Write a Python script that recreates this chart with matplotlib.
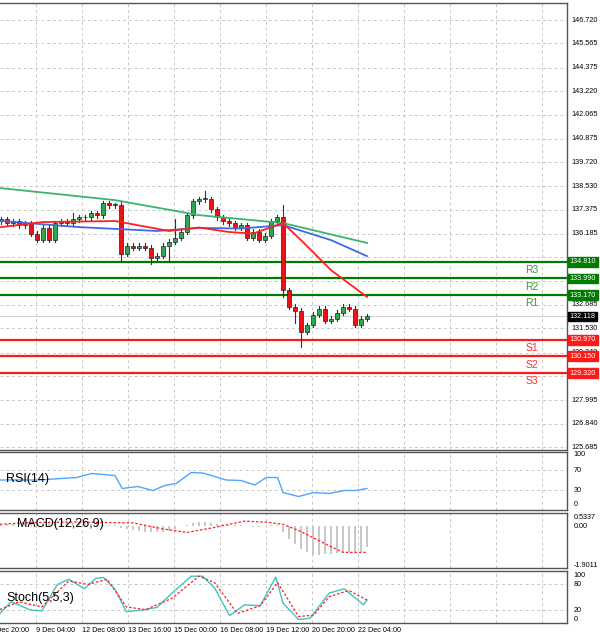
import matplotlib
matplotlib.use("Agg")
import matplotlib.pyplot as plt

plt.rcParams["font.family"] = "Liberation Sans"

# ---- data ----
closes = [136.9, 136.7, 136.8, 136.6, 136.7, 136.2, 135.9, 136.5, 135.9, 136.7,
          136.8, 136.7, 136.9, 137.0, 137.0, 137.2, 137.1, 137.7, 137.6, 137.6,
          135.2, 135.6, 135.5, 135.6, 135.5, 135.0, 135.1, 135.6, 135.8, 136.0,
          136.3, 137.1, 137.8, 137.9, 137.9, 137.4, 137.0, 136.8, 136.7, 136.5,
          136.6, 136.0, 136.3, 135.9, 136.1, 136.8, 137.0, 133.4, 132.6, 132.4,
          131.35, 131.7, 132.2, 132.5, 131.9, 132.0, 132.3, 132.6, 132.5, 131.7,
          132.0, 132.118]
first_open = 136.8
wick_hi = {20: 137.75, 34: 138.3, 47: 137.6, 12: 137.2, 29: 136.9}
wick_lo = {20: 134.8, 25: 134.7, 28: 134.8, 50: 130.6, 47: 133.1, 49: 131.8}

green_ma = [(0, 138.44), (19, 137.85), (33, 137.11), (47, 136.72), (61, 135.74)]
blue_ma = [(0, 136.82), (13, 136.52), (26, 136.33), (33, 136.48), (40, 136.45),
           (47, 136.62), (55, 135.88), (61, 135.09)]
red_ma = [(0, 136.52), (7, 136.77), (19, 136.82), (28, 136.33), (33, 136.5),
          (38, 136.28), (42, 136.2), (47, 136.72), (50, 135.88), (55, 134.4), (61, 133.08)]

levels = [("R3", 134.810, "g"), ("R2", 133.990, "g"), ("R1", 133.170, "g"),
          ("S1", 130.970, "r"), ("S2", 130.150, "r"), ("S3", 129.320, "r")]
current = 132.118
price_ticks = [146.720, 145.565, 144.375, 143.220, 142.065, 140.875, 139.720, 138.530,
               137.375, 136.185, 135.030, 133.875, 132.685, 131.530, 130.340, 129.185,
               127.995, 126.840, 125.685]

rsi = [(-0.2, 50), (6.2, 50), (12.6, 55), (15.1, 63), (19, 59), (20.2, 33), (22.8, 37),
       (25.3, 29), (27.3, 39), (29.2, 43), (31.7, 65), (33.6, 64), (35.6, 57), (37.5, 50),
       (40, 49), (42.3, 40), (44.2, 55), (46.1, 55), (47, 25), (49.6, 17), (52.1, 25),
       (54.7, 23), (57.2, 29), (59.1, 29), (61, 33)]

macd_hist = [0.1, 0.12, 0.15, 0.15, 0.18, 0.2, 0.2, 0.18, 0.2, 0.22, 0.2, 0.18, 0.2,
             0.22, 0.2, 0.15, 0.12, 0.1, 0.08, 0.05, -0.1, -0.15, -0.2, -0.25, -0.3,
             -0.35, -0.35, -0.3, -0.25, -0.15, 0.0, 0.1, 0.2, 0.25, 0.25, 0.2, 0.15,
             0.12, 0.1, 0.08, 0.05, 0.0, -0.05, -0.05, 0.0, 0.05, 0.05, -0.3, -0.7,
             -1.0, -1.3, -1.5, -1.65, -1.65, -1.6, -1.6, -1.55, -1.5, -1.5, -1.55,
             -1.5, -1.2]
macd_signal = [(-0.2, 0.12), (5, 0.22), (12, 0.25), (22, 0.2), (27, -0.15), (31, -0.35),
               (35, -0.1), (40.6, 0.3), (44, 0.25), (47, 0.12), (50, -0.3), (54, -1.0),
               (57, -1.5), (61, -1.5)]

stoch_k = [(-0.2, 13), (1.7, 40), (4.9, 21), (6.8, 19), (9.4, 80), (11.3, 92), (13.9, 70),
           (15.8, 94), (17.1, 96), (19, 69), (20.9, 17), (24.1, 22), (26, 27), (28.5, 60),
           (31.7, 99), (33.6, 99), (35.6, 72), (38.1, 8), (40.6, 33), (43.2, 31),
           (45.8, 97), (47, 37), (49.6, -1), (51.5, 2), (54.7, 60), (57.2, 70),
           (60.4, 33), (61, 44)]
stoch_d = [(-0.2, 22), (3, 40), (6.8, 28), (11.3, 88), (14.5, 80), (17.7, 92), (20.9, 28),
           (24.1, 22), (28.5, 48), (33, 99), (35.6, 84), (39.4, 13), (43.2, 31),
           (46.1, 84), (49.6, 6), (52.1, 9), (54.7, 52), (58, 66), (61, 44)]

date_labels = ["8 Dec 20:00", "9 Dec 04:00", "12 Dec 08:00", "13 Dec 16:00", "15 Dec 00:00",
               "16 Dec 08:00", "19 Dec 12:00", "20 Dec 20:00", "22 Dec 04:00"]

# ---- layout ----
W, H = 600, 642
fig = plt.figure(figsize=(W / 100, H / 100), dpi=100)
XR = 567
FS = 5.2


def panel(top, bottom):
    return fig.add_axes([0, 1 - bottom / H, XR / W, (bottom - top) / H])


xlim = (-1 / 6, (XR - 1) / 6)
grid_x = [(36 + 46 * k - 1) / 6 for k in range(-1, 12)]
gkw = dict(color="#c8c8c8", ls=(0, (3, 3)), lw=0.7)

ax = panel(3, 450)
ax_rsi = panel(452, 510)
ax_macd = panel(513, 568)
ax_st = panel(571, 623)

for a in (ax, ax_rsi, ax_macd, ax_st):
    a.set_xlim(*xlim)
    a.set_xticks([])
    a.set_yticks([])
    for g in grid_x:
        a.axvline(g, **gkw, zorder=0)
    for s in a.spines.values():
        s.set_color("#555555")
        s.set_linewidth(1)
    a.spines["left"].set_visible(False)

# main price panel
ax.set_ylim(125.54, 147.56)
for p in price_ticks:
    ax.axhline(p, **gkw, zorder=0)
    if abs(p - 135.030) > 0.01:
        ax.text(1.008, p, f"{p:.3f}", transform=ax.get_yaxis_transform(),
                fontsize=FS, va="center", ha="left", clip_on=False, zorder=1)

opens = [first_open] + closes[:-1]
for i, (o, c) in enumerate(zip(opens, closes)):
    hi = wick_hi.get(i, max(o, c) + 0.12)
    lo = wick_lo.get(i, min(o, c) - 0.12)
    ax.plot([i, i], [lo, hi], color="#333333", lw=0.8, zorder=3)
    col = "#2fa84f" if c >= o else "#ee1111"
    h = max(abs(c - o), 0.04)
    ax.bar(i, h, bottom=min(o, c), width=0.7, color=col, edgecolor="#222222",
           lw=0.5, zorder=4)

for pts, col in ((green_ma, "#3cb371"), (blue_ma, "#4169e1"), (red_ma, "#ff2020")):
    xs, ys = zip(*pts)
    ax.plot(xs, ys, color=col, lw=1.3, zorder=5)

ax.axhline(current, color="#d0d0d0", lw=0.8, zorder=1)
ax.text(1.005, current, f"{current:.3f}", transform=ax.get_yaxis_transform(), fontsize=FS,
        va="center", ha="left", color="white", zorder=10,
        bbox=dict(boxstyle="square,pad=0.2", fc="black", ec="black"))

for name, lvl, kind in levels:
    lc = "#007a00" if kind == "g" else "#ff1a1a"
    tc = "#3a9a3a" if kind == "g" else "#ff3030"
    ax.axhline(lvl, color=lc, lw=1.6, zorder=2)
    ax.text(1.005, lvl, f"{lvl:.3f}", transform=ax.get_yaxis_transform(), fontsize=FS,
            va="center", ha="left", color="white", zorder=10,
            bbox=dict(boxstyle="square,pad=0.2", fc=lc, ec=lc))
    ax.text((532 - 1) / 6, lvl - 0.4, name, fontsize=7.5, color=tc, ha="center", va="center")

# RSI
ax_rsi.set_ylim(-10, 106)
for v in (70, 30):
    ax_rsi.axhline(v, **gkw, zorder=0)
for v in (100, 70, 30, 0):
    ax_rsi.text(1.012, v, str(v), transform=ax_rsi.get_yaxis_transform(), fontsize=FS,
                va="center", ha="left")
xs, ys = zip(*rsi)
ax_rsi.plot(xs, ys, color="#4da6ff", lw=1)
ax_rsi.text(0.9, 52, "RSI(14)", fontsize=9, va="center")

# MACD
ax_macd.set_ylim(-2.4, 0.77)
ax_macd.bar(range(len(macd_hist)), macd_hist, width=0.25, color="#c8c8c8", zorder=2)
xs, ys = zip(*macd_signal)
ax_macd.plot(xs, ys, color="#ff2020", lw=0.9, ls=(0, (2, 1.5)), zorder=3)
for v, t in ((0.5337, "0.5337"), (0.0, "0.00"), (-2.25, "-1.9011")):
    ax_macd.text(1.012, v, t, transform=ax_macd.get_yaxis_transform(), fontsize=FS,
                 va="center", ha="left")
ax_macd.text(2.6, 0.15, "MACD(12,26,9)", fontsize=9, va="center")

# Stochastic
ax_st.set_ylim(-9, 111)
for v in (80, 20):
    ax_st.axhline(v, **gkw, zorder=0)
for v in (100, 80, 20, 0):
    ax_st.text(1.012, v, str(v), transform=ax_st.get_yaxis_transform(), fontsize=FS,
               va="center", ha="left")
xs, ys = zip(*stoch_k)
ax_st.plot(xs, ys, color="#40c4c0", lw=1)
xs, ys = zip(*stoch_d)
ax_st.plot(xs, ys, color="#ff2020", lw=0.9, ls=(0, (2, 1.5)))
ax_st.text(0.9, 48, "Stoch(5,5,3)", fontsize=9, va="center")

# date labels
for k, lab in enumerate(date_labels):
    px = -10 + 46 * k
    fig.text(px / W, 1 - 630 / H, lab, fontsize=FS, ha="left", va="center")

fig.savefig("out.png", dpi=100)
